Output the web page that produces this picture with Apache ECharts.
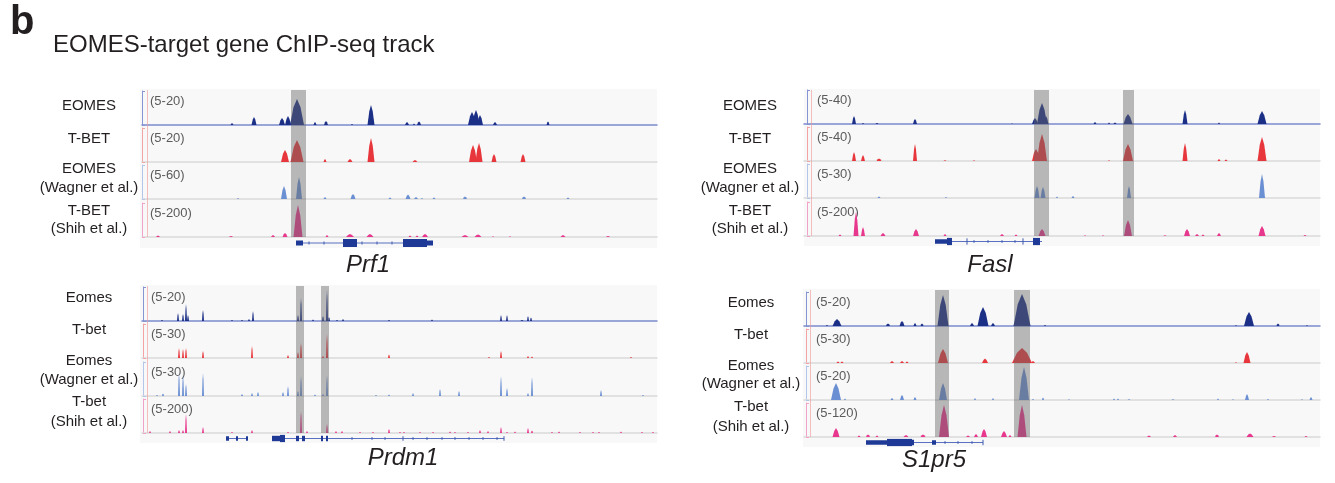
<!DOCTYPE html>
<html>
<head>
<meta charset="utf-8">
<script src="https://cdn.jsdelivr.net/npm/echarts@6/dist/echarts.min.js"></script>
<style>
  html, body { margin: 0; background: #fff; }
  #chart { width: 1335px; height: 483px; }
</style>
</head>
<body>
<div id="chart"></div>
<script>
const FONT = '"Liberation Sans", Arial, Helvetica, sans-serif';

const trackColors = ["#1b2f86", "#e8373c", "#6a8fd2", "#e8388d"];
const bracketColors = ["#8594d2", "#f3a3a3", "#b3c6ea", "#f2a2c8"];
const baselineColors = ["#7b8acb", "#d9d9d9", "#d9d9d9", "#d9d9d9"];

const upperLabels = [["EOMES"], ["T-BET"], ["EOMES", "(Wagner et al.)"], ["T-BET", "(Shih et al.)"]];
const lowerLabels = [["Eomes"], ["T-bet"], ["Eomes", "(Wagner et al.)"], ["T-bet", "(Shih et al.)"]];

// peaks: [centre, width, height] in relative track position / signal units
const prf1Eomes = [
  [90, 3, 2], [112, 5, 8], [140, 6, 7], [146, 6, 9], [155, 14, 26], [173, 3, 3],
  [184, 4, 4], [210, 2, 1], [229, 7, 20], [265, 4, 3], [272, 2, 1.5], [277, 4, 3.5],
  [330, 8, 13], [334, 7, 15], [338, 6, 10], [353, 4, 3], [406, 3, 3.5],
];
const prf1Tbet = [
  [143, 8, 12], [155, 13, 22], [183, 3, 3], [208, 5, 3], [229, 7, 24], [273, 5, 2],
  [331, 8, 17], [337, 7, 19], [352, 5, 8], [381, 5, 8],
];
const prf1Wagner = [
  [96, 2, 1], [142, 6, 13], [157, 6, 22], [183, 3, 2], [211, 5, 5], [248, 3, 1.5],
  [266, 5, 4.5], [274, 4, 2], [280, 2, 1], [292, 3, 1.5], [323, 4, 2.5], [382, 4, 2.5],
  [426, 3, 1.5],
];
const prf1Shih = [
  [16, 4, 1.5], [89, 4, 1], [131, 4, 2], [143, 5, 4], [156, 9, 32], [185, 3, 2],
  [208, 8, 3], [228, 7, 3], [268, 3, 1.5], [275, 3, 1.5], [283, 6, 3], [323, 7, 2],
  [336, 7, 2.5], [351, 2, 0.8], [368, 2, 0.8], [421, 5, 2], [466, 4, 1],
];
const prf1Highlights = [[149, 164]];
const prf1Introns = [[154, 291]];
const prf1Exons = [[154, 161, 2.5], [201, 215, 4], [261, 285, 4], [285, 291, 2.5]];
const prf1Ticks = [[167, 1.5], [182, 1.5], [220, 1.5], [235, 1.5], [250, 1.5]];

const faslEomes = [
  [50, 4, 8], [59, 2, 1], [73, 3, 1], [111, 4, 5], [208, 2, 0.5], [231, 6, 6],
  [238, 10, 21], [242, 5, 8], [291, 3, 2], [305, 2, 1.5], [311, 3, 1.5], [324, 9, 10],
  [381, 5, 14], [415, 2, 1.5], [458, 9, 13],
];
const faslTbet = [
  [50, 4, 9], [59, 4, 6], [75, 5, 2.5], [111, 4, 17], [141, 3, 0.7], [170, 2, 0.7],
  [232, 8, 12], [238, 10, 27], [305, 2, 0.8], [324, 10, 17], [381, 5, 18],
  [415, 3, 2], [422, 3, 1.5], [458, 9, 24],
];
const faslWagner = [
  [75, 3, 1.5], [142, 2, 1], [233, 5, 12], [239, 5, 11], [253, 2, 1.5], [269, 3, 2],
  [325, 4, 12], [458, 6, 24],
];
const faslShih = [
  [36, 3, 1.5], [52, 5, 24], [59, 4, 9], [79, 5, 3], [112, 6, 7], [141, 3, 2],
  [198, 4, 2], [212, 3, 1.5], [238, 7, 7], [281, 2, 0.8], [299, 2, 0.8], [324, 8, 16],
  [361, 3, 0.8], [383, 6, 7], [393, 4, 2], [399, 3, 1.5], [415, 4, 3], [458, 7, 10],
  [501, 3, 1],
];
const faslHighlights = [[230, 245], [319, 330]];
const faslIntrons = [[131, 238]];
const faslExons = [[131, 143, 2.5], [143, 148, 4], [229, 236, 4]];
const faslTicks = [[163, 3.5], [170, 1.5], [184, 1.5], [198, 1.5], [211, 1.5], [219, 3.5]];

const prdm1Eomes = [
  [20, 2, 1], [36, 2, 8], [41, 2, 7], [44, 2, 17], [46, 2, 6], [61, 2, 11],
  [90, 2, 1], [100, 2, 1], [107, 2, 2], [111, 2, 10], [156, 2, 6], [159, 2, 23],
  [171, 2, 1.5], [181, 2, 5], [185, 2, 31], [187, 2, 4], [195, 2, 1], [201, 2, 2],
  [247, 2, 1], [290, 2, 1.5], [359, 2, 6], [365, 2, 6], [380, 3, 1], [386, 2, 5],
  [389, 2, 3.5],
];
const prdm1Tbet = [
  [37, 2, 10], [41, 2, 9], [44, 2, 10], [61, 2, 7], [110, 2, 12], [146, 2, 3],
  [156, 2, 6], [159, 2, 15], [181, 2, 2], [185, 2, 24], [247, 2, 3.5], [347, 2, 1],
  [359, 2, 7], [386, 2, 2], [390, 2, 1.5], [489, 2, 1],
];
const prdm1Wagner = [
  [15, 2, 1], [21, 2, 2.5], [37, 2, 23], [41, 2, 21], [44, 2, 12], [61, 2, 23],
  [100, 2, 2], [110, 2, 3], [116, 2, 4], [141, 2, 4], [146, 2, 10], [156, 2, 5],
  [159, 2, 20], [173, 2, 1.5], [181, 2, 2], [185, 2, 21], [234, 2, 1], [247, 2, 1.5],
  [271, 2, 3], [298, 2, 7], [317, 2, 5], [359, 2, 20], [365, 2, 8], [386, 2, 3],
  [390, 2, 19], [459, 2, 6], [501, 2, 1],
];
const prdm1Shih = [
  [8, 2, 2], [28, 2, 2], [37, 2, 3], [41, 2, 3], [44, 2, 19], [61, 2, 6],
  [90, 2, 1], [110, 2, 3], [146, 2, 1], [159, 2, 22], [165, 2, 2], [185, 2, 9],
  [194, 2, 2], [200, 2, 2], [218, 2, 1], [231, 2, 1], [247, 2, 4], [258, 2, 1],
  [262, 2, 1], [278, 2, 1], [291, 2, 1], [308, 2, 1.5], [313, 2, 1], [326, 2, 1],
  [338, 2, 3], [346, 2, 2], [359, 2, 6], [365, 2, 1], [373, 2, 1.5], [386, 2, 5],
  [390, 2, 2.5], [410, 2, 1], [417, 2, 1.5], [438, 2, 1], [451, 2, 1], [457, 2, 1],
  [479, 2, 1.5], [500, 2, 1], [511, 2, 1],
];
const prdm1Highlights = [[154, 162], [179, 187]];
const prdm1Introns = [[85, 105], [130, 362]];
const prdm1Exons = [
  [84, 87, 2.5], [94, 96, 2.5], [104, 106, 2.5], [130, 138, 3], [138, 143, 4],
  [154, 157, 3], [160, 163, 3], [179, 181, 3], [184, 186, 3],
];
const prdm1Ticks = [
  [210, 1.5], [230, 1.5], [243, 1.5], [261, 2.5], [271, 1.5], [285, 1.5],
  [300, 1.5], [313, 1.5], [327, 1.5], [341, 1.5], [355, 1.5], [362, 2.5],
];

const s1pr5Eomes = [
  [23, 2, 1], [33, 9, 7], [84, 4, 2.5], [98, 5, 5], [111, 3, 3], [118, 3, 2.5],
  [139, 11, 31], [168, 4, 3], [179, 11, 19], [189, 4, 3], [218, 17, 32], [241, 2, 1],
  [432, 2, 0.8], [445, 10, 14], [474, 3, 2.5], [503, 2, 0.8],
];
const s1pr5Tbet = [
  [34, 3, 1.5], [38, 3, 1.5], [88, 4, 2], [98, 4, 2], [103, 3, 1.5], [139, 10, 14],
  [181, 6, 4.5], [218, 20, 15], [229, 4, 2], [432, 2, 0.8], [443, 7, 11],
];
const s1pr5Wagner = [
  [32, 10, 17], [41, 2, 1.5], [88, 3, 2], [98, 4, 5], [111, 3, 3], [139, 8, 17],
  [171, 2, 2], [189, 2, 2], [220, 10, 33], [229, 2, 1], [239, 2, 2.5], [265, 2, 0.8],
  [310, 2, 1.5], [314, 2, 1.5], [325, 3, 0.8], [369, 3, 0.8], [414, 2, 1.5],
  [429, 2, 0.8], [443, 4, 6], [464, 2, 1], [498, 2, 0.8], [507, 3, 3],
];
const s1pr5Shih = [
  [32, 7, 9], [55, 3, 1.5], [64, 4, 2.5], [73, 3, 1.5], [102, 5, 2], [119, 5, 2.5],
  [140, 10, 32], [164, 4, 1.5], [172, 4, 3], [180, 6, 8], [200, 6, 6], [206, 3, 2],
  [218, 9, 32], [345, 4, 1.5], [371, 4, 2], [413, 4, 2.5], [446, 7, 3.5],
  [470, 4, 1], [502, 3, 1],
];
const s1pr5Highlights = [[131, 145], [210, 226]];
const s1pr5Introns = [[62, 179]];
const s1pr5Exons = [[62, 83, 2.5], [83, 108, 4], [108, 110, 3], [128, 132, 2.5]];
const s1pr5Ticks = [[141, 1.5], [154, 1.5], [168, 1.5], [179, 3]];

const panels = [
  {
    gene: "Prf1", labels: upperLabels, ranges: ["(5-20)", "(5-20)", "(5-60)", "(5-200)"],
    tracks: [prf1Eomes, prf1Tbet, prf1Wagner, prf1Shih],
    highlights: prf1Highlights, introns: prf1Introns, exons: prf1Exons, ticks: prf1Ticks,
    left: 142, right: 657, bgLeft: 140, bgTop: 89, bgBottom: 248,
    baselines: [125, 162, 199, 237], bracket: 0, mark: 5, rangeDx: 8,
    labelX: 89, labelY: [[106], [139], [169, 188], [211, 229]], geneX: 368, geneY: 265,
  },
  {
    gene: "Fasl", labels: upperLabels, ranges: ["(5-40)", "(5-40)", "(5-30)", "(5-200)"],
    tracks: [faslEomes, faslTbet, faslWagner, faslShih],
    highlights: faslHighlights, introns: faslIntrons, exons: faslExons, ticks: faslTicks,
    left: 804, right: 1320, bgLeft: 804, bgTop: 89, bgBottom: 246,
    baselines: [124, 161, 198, 236], bracket: 3, mark: 7, rangeDx: 10,
    labelX: 750, labelY: [[106], [139], [169, 188], [211, 229]], geneX: 990, geneY: 265,
  },
  {
    gene: "Prdm1", labels: lowerLabels, ranges: ["(5-20)", "(5-30)", "(5-30)", "(5-200)"],
    tracks: [prdm1Eomes, prdm1Tbet, prdm1Wagner, prdm1Shih],
    highlights: prdm1Highlights, introns: prdm1Introns, exons: prdm1Exons, ticks: prdm1Ticks,
    left: 142, right: 657, bgLeft: 140, bgTop: 285, bgBottom: 443,
    baselines: [321, 358, 396, 433], bracket: 1, mark: 5, rangeDx: 8,
    labelX: 89, labelY: [[298], [330], [361, 380], [402, 422]], geneX: 403, geneY: 458,
  },
  {
    gene: "S1pr5", labels: lowerLabels, ranges: ["(5-20)", "(5-30)", "(5-20)", "(5-120)"],
    tracks: [s1pr5Eomes, s1pr5Tbet, s1pr5Wagner, s1pr5Shih],
    highlights: s1pr5Highlights, introns: s1pr5Introns, exons: s1pr5Exons, ticks: s1pr5Ticks,
    left: 804, right: 1320, bgLeft: 803, bgTop: 289, bgBottom: 447,
    baselines: [326, 363, 400, 437], bracket: 2, mark: 6, rangeDx: 10,
    labelX: 751, labelY: [[303], [335], [366, 384], [407, 427]], geneX: 934, geneY: 460,
  },
];

const TRACK_H = 34;
const grids = [];
const xAxes = [];
const yAxes = [];
const series = [];
const graphics = [];

function addGrid(grid, xAxis, yAxis) {
  const index = grids.length;
  grids.push(grid);
  xAxes.push({ gridIndex: index, type: "value", ...xAxis });
  yAxes.push({ gridIndex: index, type: "value", ...yAxis });
  return index;
}

function hiddenAxis(min, max) {
  return { show: false, min, max, splitLine: { show: false } };
}

// a peak is drawn as a rounded mountain: foot, shoulders, summit
function renderPeak(params, api) {
  const c = api.value(0);
  const w = api.value(1);
  const h = api.value(2);
  return {
    type: "polygon",
    shape: {
      points: [
        api.coord([c - w / 2, 0]),
        api.coord([c - w / 4, h * 0.68]),
        api.coord([c, h]),
        api.coord([c + w / 4, h * 0.68]),
        api.coord([c + w / 2, 0]),
      ],
    },
    style: { fill: api.visual("color") },
  };
}

function renderExon(params, api) {
  const p1 = api.coord([api.value(0), api.value(2)]);
  const p2 = api.coord([api.value(1), -api.value(2)]);
  return {
    type: "rect",
    shape: { x: p1[0], y: p1[1], width: p2[0] - p1[0], height: p2[1] - p1[1] },
    style: { fill: "#1e3a96" },
  };
}

function renderIntron(params, api) {
  const p1 = api.coord([api.value(0), 0]);
  const p2 = api.coord([api.value(1), 0]);
  return {
    type: "line",
    shape: { x1: p1[0], y1: p1[1], x2: p2[0], y2: p2[1] },
    style: { stroke: "#5a70c0", lineWidth: 1 },
  };
}

function renderTick(params, api) {
  const p1 = api.coord([api.value(0), api.value(1)]);
  const p2 = api.coord([api.value(0), -api.value(1)]);
  return {
    type: "line",
    shape: { x1: p1[0], y1: p1[1], x2: p2[0], y2: p2[1] },
    style: { stroke: "#3d58b0", lineWidth: 1 },
  };
}

function renderBand(params, api) {
  const p1 = api.coord([api.value(0), 1]);
  const p2 = api.coord([api.value(1), 0]);
  return {
    type: "rect",
    shape: { x: p1[0], y: p1[1], width: p2[0] - p1[0], height: p2[1] - p1[1] },
    style: { fill: "rgba(105,105,105,0.45)" },
  };
}

function renderMark(params, api) {
  const p1 = api.coord([api.value(0), 1]);
  const p2 = api.coord([api.value(0), 0]);
  return {
    type: "line",
    shape: { x1: p1[0] + 0.5, y1: p1[1], x2: p2[0] + 0.5, y2: p2[1] },
    style: { stroke: "rgba(240,150,150,0.6)", lineWidth: 1 },
  };
}

function text(str, x, y, font, align, color) {
  graphics.push({
    type: "text",
    silent: true,
    style: {
      text: str,
      x,
      y,
      font,
      fill: color || "#231f20",
      textAlign: align || "center",
      textVerticalAlign: "middle",
    },
  });
}

panels.forEach((panel) => {
  const width = panel.right - panel.left;

  // light background of the whole browser panel
  addGrid(
    {
      left: panel.bgLeft,
      top: panel.bgTop,
      width: panel.right - panel.bgLeft,
      height: panel.bgBottom - panel.bgTop,
      show: true,
      backgroundColor: "#f8f8f8",
      borderWidth: 0,
      z: -1,
    },
    hiddenAxis(0, 1),
    hiddenAxis(0, 1),
  );

  panel.tracks.forEach((peaks, t) => {
    const baseline = panel.baselines[t];
    const gi = addGrid(
      { left: panel.left, top: baseline - TRACK_H, width, height: TRACK_H },
      {
        min: 0,
        max: width,
        axisLine: { show: true, lineStyle: { color: baselineColors[t], width: 1.5 } },
        axisTick: { show: false },
        axisLabel: { show: false },
        splitLine: { show: false },
      },
      {
        min: 0,
        max: TRACK_H,
        interval: TRACK_H,
        offset: -panel.bracket,
        axisLine: { show: true, lineStyle: { color: bracketColors[t], width: 1 } },
        axisTick: { show: true, inside: true, length: 3, lineStyle: { color: bracketColors[t] } },
        axisLabel: { show: false },
        splitLine: { show: false },
      },
    );
    series.push({
      type: "custom",
      xAxisIndex: gi,
      yAxisIndex: gi,
      clip: true,
      silent: true,
      itemStyle: { color: trackColors[t] },
      renderItem: renderPeak,
      data: peaks,
    });

    text(panel.ranges[t], panel.left + panel.bracket + panel.rangeDx, baseline - 24,
      "13px " + FONT, "left", "#5b5b5b");

    panel.labels[t].forEach((line, k) => {
      text(line, panel.labelX, panel.labelY[t][k], "15px " + FONT, "center");
    });
  });

  // gene model
  const lastBase = panel.baselines[3];
  const geneGrid = addGrid(
    { left: panel.left, top: lastBase + 1, width, height: panel.bgBottom - lastBase - 1 },
    hiddenAxis(0, width),
    hiddenAxis(-5, 5),
  );
  [
    [panel.introns, renderIntron],
    [panel.ticks, renderTick],
    [panel.exons, renderExon],
  ].forEach(([data, renderItem]) => {
    series.push({
      type: "custom",
      xAxisIndex: geneGrid,
      yAxisIndex: geneGrid,
      silent: true,
      renderItem,
      data,
    });
  });

  // highlighted peak regions across all tracks
  const overlay = addGrid(
    { left: panel.left, top: panel.bgTop + 1, width, height: lastBase - panel.bgTop - 1 },
    hiddenAxis(0, width),
    hiddenAxis(0, 1),
  );
  series.push({
    type: "custom",
    xAxisIndex: overlay,
    yAxisIndex: overlay,
    silent: true,
    z: 8,
    renderItem: renderMark,
    data: [[panel.mark]],
  });
  series.push({
    type: "custom",
    xAxisIndex: overlay,
    yAxisIndex: overlay,
    silent: true,
    z: 10,
    renderItem: renderBand,
    data: panel.highlights,
  });

  text(panel.gene, panel.geneX, panel.geneY, "italic 24px " + FONT, "center");
});

text("b", 10, 23, "bold 40px " + FONT, "left", "#231f20");
text("EOMES-target gene ChIP-seq track", 53, 45, "24px " + FONT, "left", "#231f20");

const chart = echarts.init(document.getElementById("chart"));
chart.setOption({
  animation: false,
  backgroundColor: "#ffffff",
  grid: grids,
  xAxis: xAxes,
  yAxis: yAxes,
  series,
  graphic: graphics,
});
</script>
</body>
</html>
